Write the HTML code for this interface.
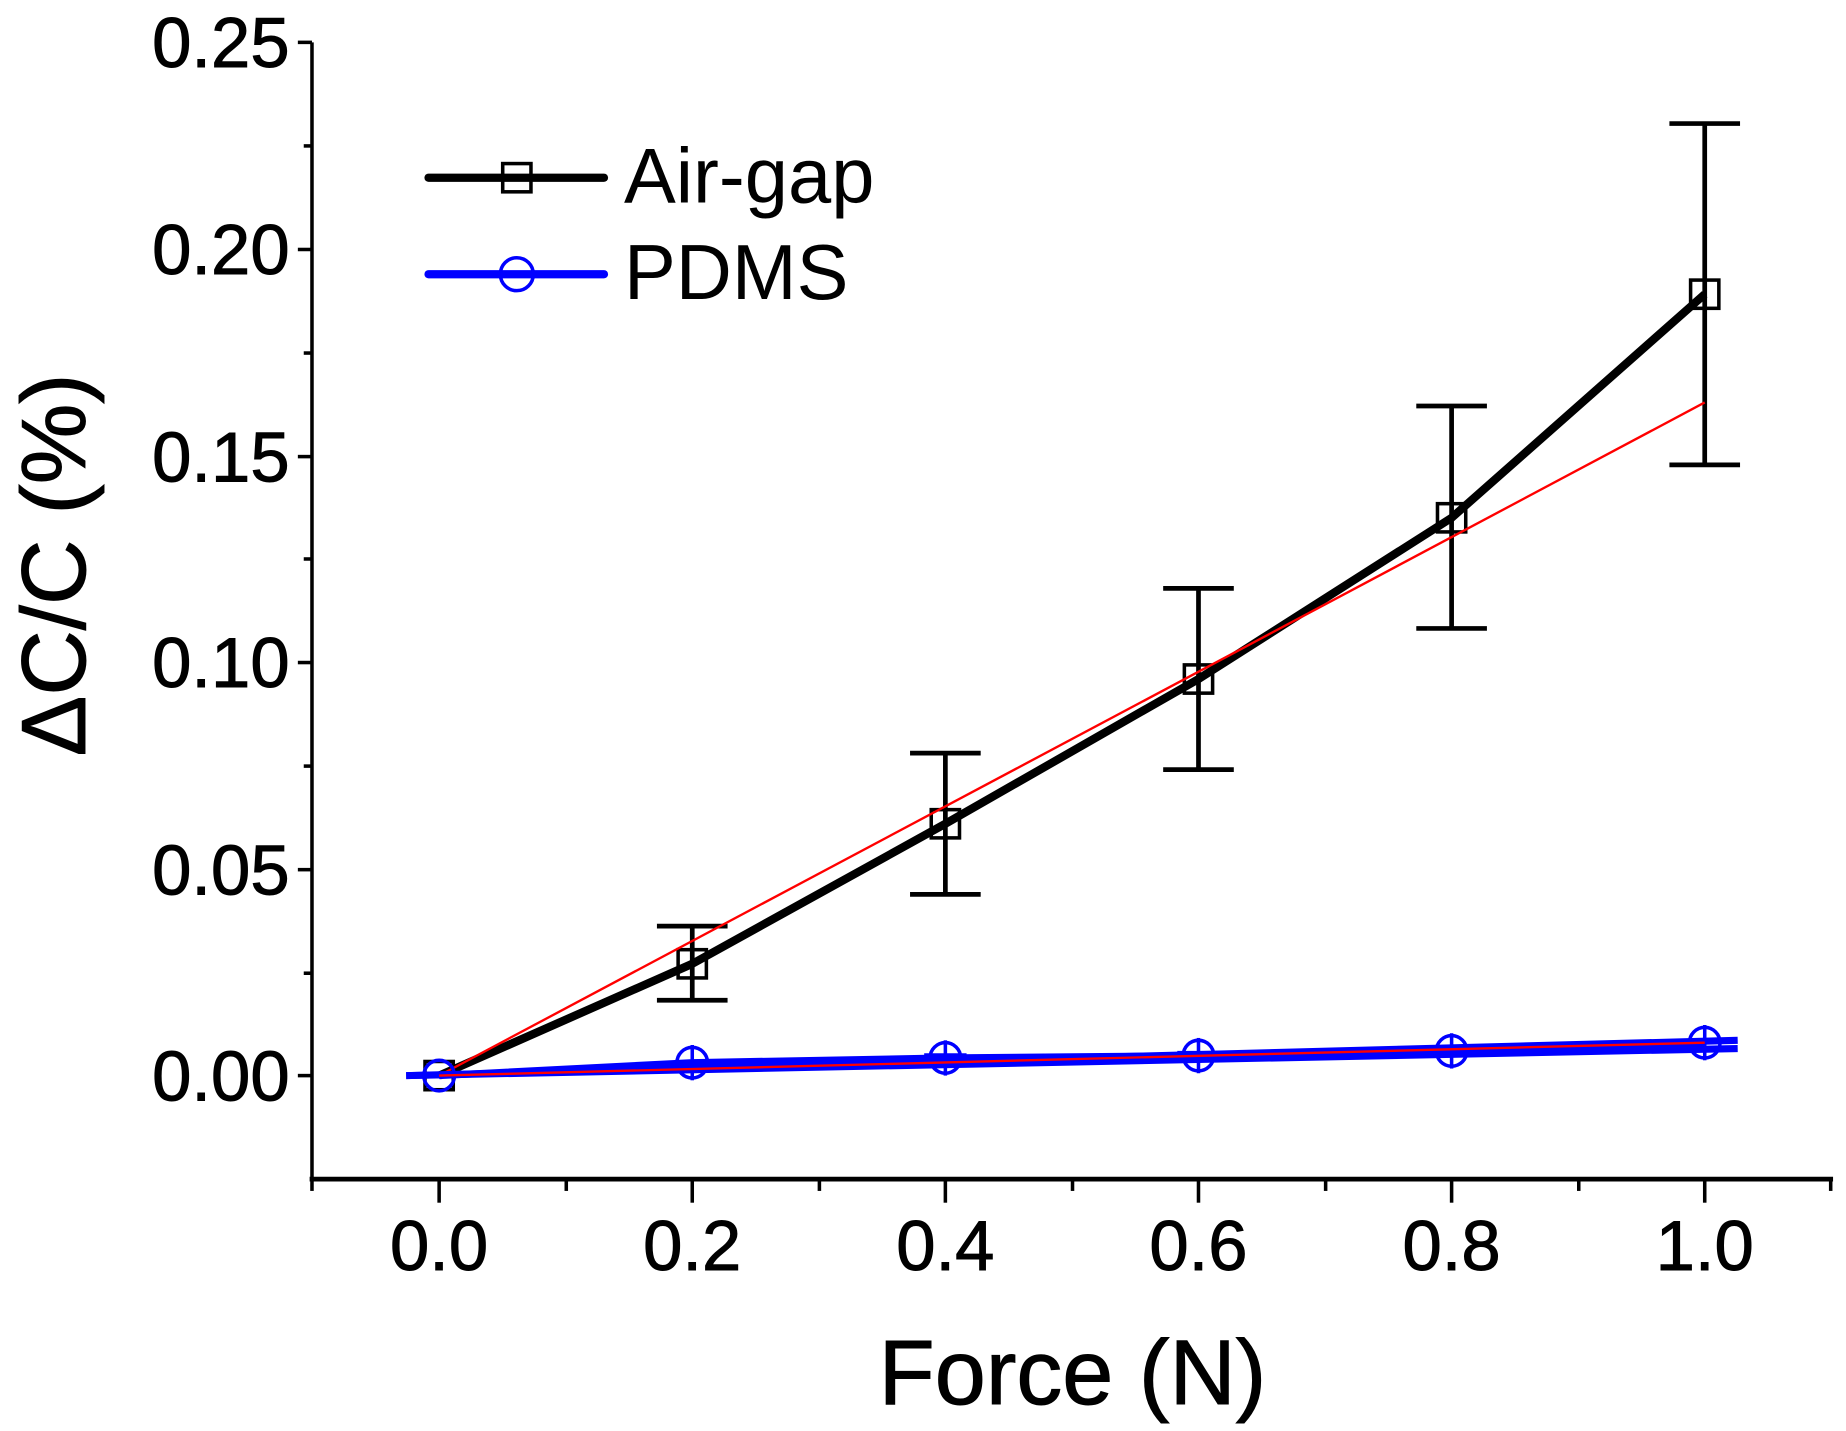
<!DOCTYPE html>
<html><head><meta charset="utf-8"><style>html,body{margin:0;padding:0;background:#fff}svg{display:block}</style></head>
<body>
<svg width="1846" height="1431" viewBox="0 0 1568 1216" preserveAspectRatio="none" xmlns="http://www.w3.org/2000/svg" font-family="Liberation Sans, Arial, sans-serif">
<rect width="1568" height="1216" fill="#fff"/>
<g stroke="#000" stroke-width="3" fill="none">
<line x1="265" y1="36" x2="265" y2="1002"/>
<line x1="263" y1="1002" x2="1557" y2="1002" stroke-width="4"/>
<line x1="253" y1="36" x2="265" y2="36"/><line x1="253" y1="212" x2="265" y2="212"/><line x1="253" y1="388" x2="265" y2="388"/><line x1="253" y1="563" x2="265" y2="563"/><line x1="253" y1="739" x2="265" y2="739"/><line x1="253" y1="914" x2="265" y2="914"/>
<line x1="258" y1="124" x2="265" y2="124"/><line x1="258" y1="300" x2="265" y2="300"/><line x1="258" y1="475" x2="265" y2="475"/><line x1="258" y1="651" x2="265" y2="651"/><line x1="258" y1="827" x2="265" y2="827"/>
<line x1="373" y1="1002" x2="373" y2="1022"/><line x1="588" y1="1002" x2="588" y2="1022"/><line x1="803" y1="1002" x2="803" y2="1022"/><line x1="1018" y1="1002" x2="1018" y2="1022"/><line x1="1233" y1="1002" x2="1233" y2="1022"/><line x1="1448" y1="1002" x2="1448" y2="1022"/>
<line x1="265" y1="1002" x2="265" y2="1012"/><line x1="481" y1="1002" x2="481" y2="1012"/><line x1="696" y1="1002" x2="696" y2="1012"/><line x1="911" y1="1002" x2="911" y2="1012"/><line x1="1126" y1="1002" x2="1126" y2="1012"/><line x1="1341" y1="1002" x2="1341" y2="1012"/><line x1="1555" y1="1002" x2="1555" y2="1012"/>
</g>
<g font-size="60" fill="#000" text-anchor="end" stroke="#000" stroke-width="0.8">
<text x="246" y="57">0.25</text><text x="246" y="233">0.20</text><text x="246" y="409">0.15</text><text x="246" y="584">0.10</text><text x="246" y="760">0.05</text><text x="246" y="935">0.00</text>
</g>
<g font-size="60" fill="#000" text-anchor="middle" stroke="#000" stroke-width="0.8">
<text x="373" y="1079">0.0</text><text x="588" y="1079">0.2</text><text x="803" y="1079">0.4</text><text x="1018" y="1079">0.6</text><text x="1233" y="1079">0.8</text><text x="1448" y="1079">1.0</text>
</g>
<text x="911" y="1193" font-size="78" text-anchor="middle" stroke="#000" stroke-width="0.8">Force (N)</text>
<text transform="translate(72,480) rotate(-90)" font-size="77" text-anchor="middle" stroke="#000" stroke-width="0.8">ΔC/C (%)</text>
<g stroke="#000" stroke-width="4">
<line x1="588" y1="787" x2="588" y2="850"/><line x1="558" y1="787" x2="618" y2="787"/><line x1="558" y1="850" x2="618" y2="850"/>
<line x1="803" y1="640" x2="803" y2="760"/><line x1="773" y1="640" x2="833" y2="640"/><line x1="773" y1="760" x2="833" y2="760"/>
<line x1="1018" y1="500" x2="1018" y2="654"/><line x1="988" y1="500" x2="1048" y2="500"/><line x1="988" y1="654" x2="1048" y2="654"/>
<line x1="1233" y1="345" x2="1233" y2="534"/><line x1="1203" y1="345" x2="1263" y2="345"/><line x1="1203" y1="534" x2="1263" y2="534"/>
<line x1="1448" y1="105" x2="1448" y2="395"/><line x1="1418" y1="105" x2="1478" y2="105"/><line x1="1418" y1="395" x2="1478" y2="395"/>
</g>
<polyline points="373,914 588,819 803,700 1018,577 1233,440 1448,250" fill="none" stroke="#000" stroke-width="7" stroke-linejoin="round"/>
<g fill="none" stroke="#000" stroke-width="3">
<rect x="576" y="807" width="24" height="24"/><rect x="791" y="688" width="24" height="24"/><rect x="1006" y="565" width="24" height="24"/><rect x="1221" y="428" width="24" height="24"/><rect x="1436" y="238" width="24" height="24"/><rect x="361" y="902" width="24" height="24"/>
</g>
<line x1="373" y1="914" x2="1448" y2="342" stroke="#f00" stroke-width="2"/>
<line x1="345" y1="914" x2="1476" y2="884" stroke="#00f" stroke-width="6"/>
<line x1="345" y1="914" x2="1476" y2="891" stroke="#00f" stroke-width="6"/>
<polyline points="373,914 588,903 803,899 1018,897 1233,893 1448,886" fill="none" stroke="#00f" stroke-width="6"/>
<g fill="none" stroke="#00f" stroke-width="3">
<circle cx="373" cy="914" r="13"/><circle cx="588" cy="903" r="13"/><circle cx="803" cy="899" r="13"/><circle cx="1018" cy="897" r="13"/><circle cx="1233" cy="893" r="13"/><circle cx="1448" cy="886" r="13"/>
<line x1="588" y1="888" x2="588" y2="918"/><line x1="803" y1="884" x2="803" y2="914"/><line x1="1018" y1="882" x2="1018" y2="912"/><line x1="1233" y1="878" x2="1233" y2="908"/><line x1="1448" y1="871" x2="1448" y2="901"/>
</g>
<g stroke="#00f" stroke-width="8"><line x1="1000" y1="897" x2="1036" y2="897"/><line x1="785" y1="899" x2="821" y2="899"/></g>
<line x1="373" y1="914" x2="1448" y2="886" stroke="#f00" stroke-width="2"/>
<line x1="364" y1="151" x2="513" y2="151" stroke="#000" stroke-width="7" stroke-linecap="round"/>
<rect x="427" y="139" width="24" height="24" fill="none" stroke="#000" stroke-width="3"/>
<text x="530" y="172" font-size="66">Air-gap</text>
<line x1="364" y1="233" x2="513" y2="233" stroke="#00f" stroke-width="7" stroke-linecap="round"/>
<circle cx="439" cy="233" r="14" fill="none" stroke="#00f" stroke-width="3"/>
<text x="530" y="254" font-size="66">PDMS</text>
</svg>
</body></html>
